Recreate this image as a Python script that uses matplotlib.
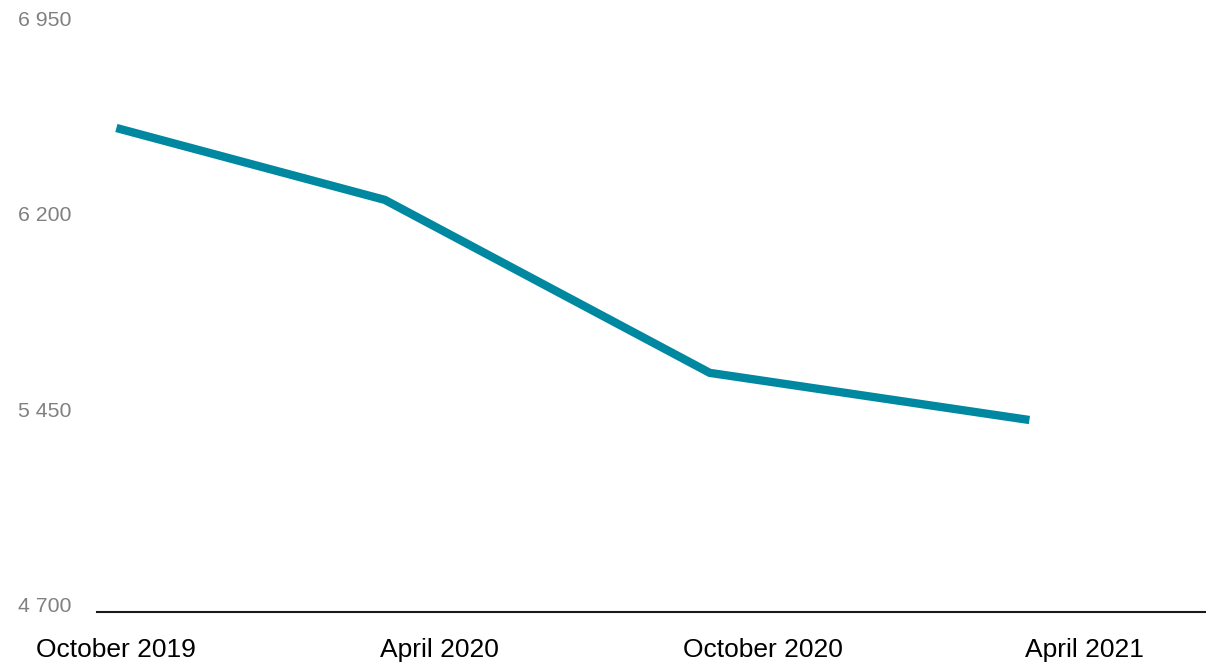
import matplotlib.pyplot as plt
import matplotlib.dates as mdates
import datetime as dt

# survey values per period
dates = [dt.date(2019, 10, 1), dt.date(2020, 3, 1), dt.date(2020, 9, 1), dt.date(2021, 3, 1)]
values = [6558, 6282, 5618, 5437]

tick_dates = [dt.date(2019, 10, 1), dt.date(2020, 4, 1), dt.date(2020, 10, 1), dt.date(2021, 4, 1)]
tick_labels = ['October 2019', 'April 2020', 'October 2020', 'April 2021']
y_ticks = [4700, 5450, 6200, 6950]

plt.rcParams['font.family'] = ['Liberation Sans', 'DejaVu Sans']

fig = plt.figure(figsize=(12.06, 6.65), dpi=100)
ax = fig.add_axes([0.0804, 0.0797, 0.9196, 0.8814])

ax.plot(dates, values, color='#0088a1', linewidth=6, solid_capstyle='butt', solid_joinstyle='miter')

ax.set_xlim(dt.date(2019, 9, 20), dt.date(2021, 6, 9))
ax.set_ylim(4700, 6950)

ax.set_xticks([mdates.date2num(d) for d in tick_dates])
ax.set_xticklabels(tick_labels, fontsize=19, color='black')
ax.set_yticks(y_ticks)
ax.set_yticklabels([f'{v:,}'.replace(',', ' ') for v in y_ticks], fontsize=15.3, color='#808080')

ax.tick_params(axis='both', length=0)
ax.tick_params(axis='x', pad=19)
ax.tick_params(axis='y', pad=57)

# y labels sit on their value, left aligned
for lab in ax.get_yticklabels():
    lab.set_horizontalalignment('left')
    lab.set_verticalalignment('baseline')

for side in ['top', 'right', 'left']:
    ax.spines[side].set_visible(False)
ax.spines['bottom'].set_linewidth(1.5)
ax.spines['bottom'].set_color('#1a1a1a')

fig.savefig('out.png', dpi=100)
